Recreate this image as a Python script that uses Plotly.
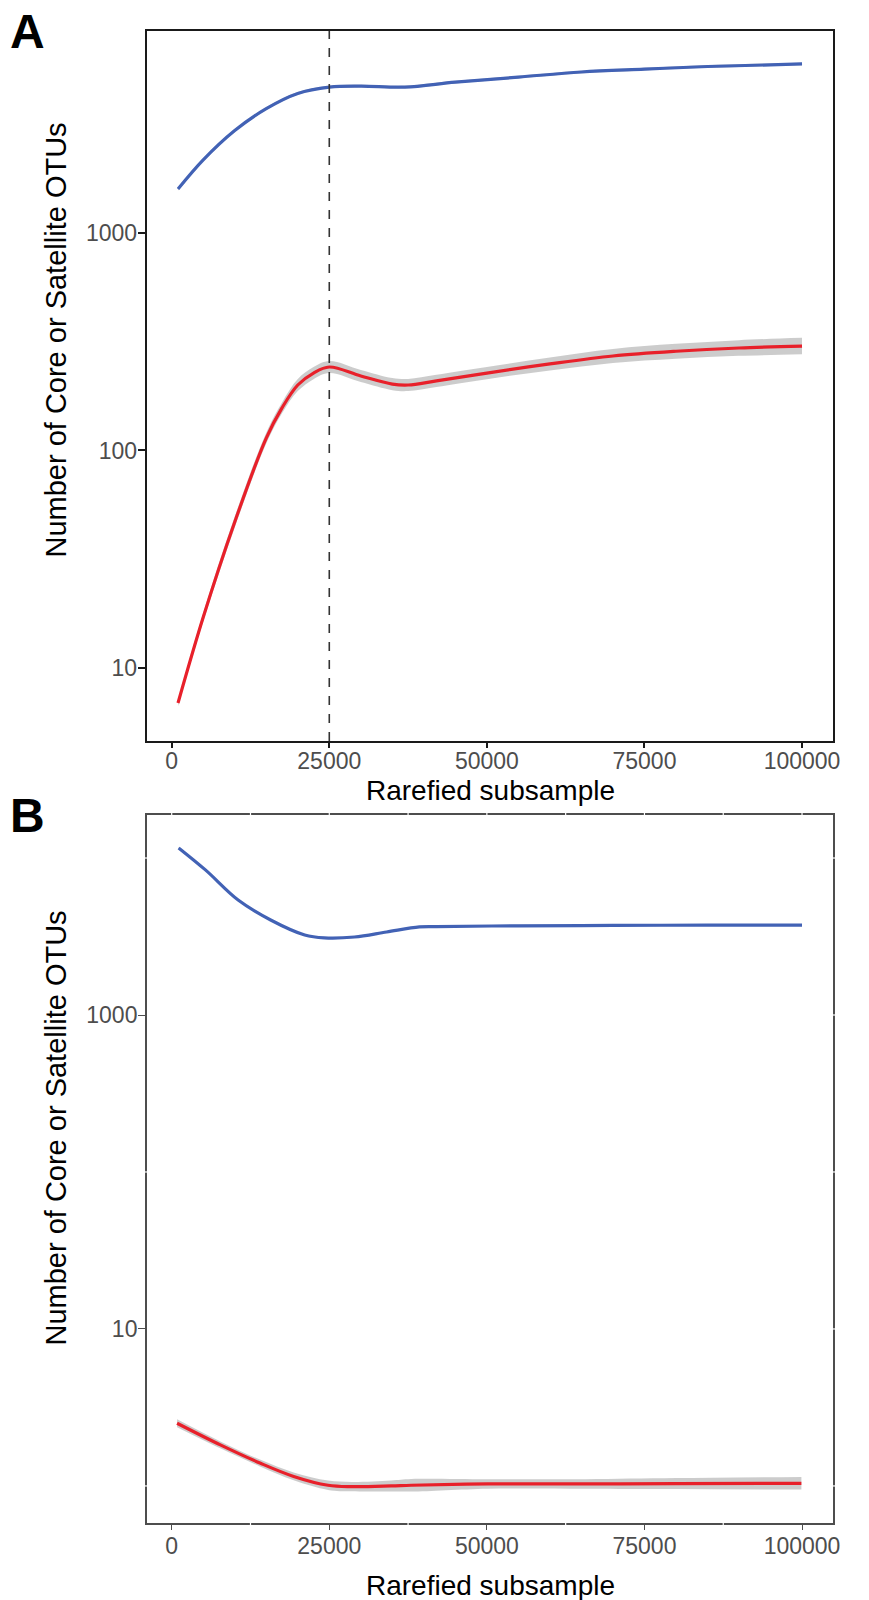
import plotly.graph_objects as go
import numpy as np

# ---------------- data ----------------
# Panel A
a_core_x = [1000, 5000, 10000, 15000, 20000, 25000, 30000, 37000, 45000, 55000, 65000, 75000, 85000, 100000]
a_core_y = [1592, 2168, 2958, 3733, 4385, 4690, 4740, 4690, 4940, 5210, 5500, 5670, 5830, 5990]
a_core_se = [0.006] * len(a_core_x)

a_sat_x = [1000, 5000, 10000, 15000, 17500, 20000, 22500, 25000, 30000, 35000, 37500, 42000, 50000, 60000, 70000, 80000, 90000, 100000]
a_sat_y = [6.9, 17.1, 46.9, 114, 157, 200, 227, 242, 220, 202, 200, 209, 227, 250, 272, 286, 296, 302]
a_sat_se = [0.015, 0.02, 0.025, 0.025, 0.025, 0.028, 0.028, 0.028, 0.028, 0.028, 0.028, 0.028, 0.028, 0.03, 0.032, 0.034, 0.036, 0.038]

a_vline = 25000

# Panel B
b_core_x = [1100, 5350, 10540, 15700, 21100, 24200, 29000, 34100, 39300, 42000, 55000, 70000, 85000, 100000]
b_core_y = [11600, 8400, 5400, 4030, 3235, 3100, 3140, 3380, 3640, 3660, 3700, 3720, 3740, 3740]
b_core_se = [0.006] * len(b_core_x)

b_sat_x = [850, 7800, 14000, 19350, 24800, 28600, 34800, 38000, 50200, 65600, 80000, 99900]
b_sat_y = [2.51, 1.82, 1.40, 1.15, 1.01, 0.99, 1.00, 1.01, 1.03, 1.03, 1.035, 1.04]
b_sat_se = [0.025, 0.022, 0.022, 0.025, 0.03, 0.03, 0.035, 0.04, 0.03, 0.03, 0.035, 0.04]

x_ticks = [0, 25000, 50000, 75000, 100000]
x_ticktext = ["0", "25000", "50000", "75000", "100000"]
x_minor = [12500, 37500, 62500, 87500]
a_yticks = [10, 100, 1000]
b_yticks = [10, 1000]
b_yminor = [1, 100, 10000]

x_title = "Rarefied subsample"
y_title = "Number of Core or Satellite OTUs"

# ---------------- styling ----------------
W, H = 869, 1600
BLUE = "#4262b5"
RED = "#e8202a"
RIB = "rgba(170,170,170,0.6)"
FONT = "Liberation Sans, Arial, Helvetica, sans-serif"
TICKFONT = dict(family=FONT, size=23, color="#4d4d4d")
XTITLEFONT = dict(family=FONT, size=28, color="black")
YTITLEFONT = dict(family=FONT, size=29, color="black")


def px_x(p):
    return p / W


def px_y(p):
    return 1 - p / H


xdom = [px_x(148), px_x(840)]
a_dom = [px_y(741), px_y(31)]
b_dom = [px_y(1523), px_y(815)]

fig = go.Figure()


def add_series(x, y, se, color, xa, ya):
    ly = np.log10(np.array(y, dtype=float))
    s = np.array(se)
    up = 10 ** (ly + s)
    lo = 10 ** (ly - s)
    fig.add_trace(go.Scatter(x=x, y=lo, mode="lines", line=dict(width=0, shape="spline"),
                             hoverinfo="skip", showlegend=False, xaxis=xa, yaxis=ya))
    fig.add_trace(go.Scatter(x=x, y=up, mode="lines", line=dict(width=0, shape="spline"),
                             fill="tonexty", fillcolor=RIB,
                             hoverinfo="skip", showlegend=False, xaxis=xa, yaxis=ya))
    fig.add_trace(go.Scatter(x=x, y=y, mode="lines",
                             line=dict(color=color, width=3.2, shape="spline", smoothing=1.0),
                             showlegend=False, xaxis=xa, yaxis=ya))


add_series(a_core_x, a_core_y, a_core_se, BLUE, "x", "y")
add_series(a_sat_x, a_sat_y, a_sat_se, RED, "x", "y")
add_series(b_core_x, b_core_y, b_core_se, BLUE, "x2", "y2")
add_series(b_sat_x, b_sat_y, b_sat_se, RED, "x2", "y2")

xr = [-3950, 104950]
common_x = dict(range=xr, tickvals=x_ticks, ticktext=x_ticktext, ticks="outside",
                ticklen=5, showgrid=False, zeroline=False, showline=True, mirror=True,
                tickfont=TICKFONT)
common_y = dict(type="log", ticks="outside", ticklen=7, showgrid=False, zeroline=False,
                showline=True, mirror=True, ticklabelstandoff=-4, tickfont=TICKFONT)

fig.update_layout(
    width=W, height=H,
    margin=dict(l=0, r=0, t=0, b=0),
    paper_bgcolor="white", plot_bgcolor="white",
    showlegend=False,
    xaxis=dict(domain=xdom, anchor="y", linecolor="#1a1a1a", linewidth=2.2,
               tickcolor="#1a1a1a", tickwidth=1.5, ticklabelstandoff=-7, **common_x),
    yaxis=dict(domain=a_dom, anchor="x", range=[0.664, 3.929],
               tickvals=a_yticks, ticktext=[str(v) for v in a_yticks],
               tickcolor="#1a1a1a", tickwidth=1.5, linecolor="#1a1a1a", linewidth=2.2, **common_y),
    xaxis2=dict(domain=xdom, anchor="y2", linecolor="#4d4d4d", linewidth=1.5,
                tickcolor="#4d4d4d", tickwidth=1.3, ticklabelstandoff=-3, **common_x),
    yaxis2=dict(domain=b_dom, anchor="x2", range=[-0.236, 4.274],
                tickvals=b_yticks, ticktext=[str(v) for v in b_yticks],
                tickcolor="#4d4d4d", tickwidth=1.3, linecolor="#4d4d4d", linewidth=1.5, **common_y),
)

shapes = []
# dashed vertical line in panel A
shapes.append(dict(type="line", xref="x", yref="y domain", x0=a_vline, x1=a_vline, y0=0, y1=1,
                   line=dict(color="#333333", width=1.6, dash="dash"), layer="above"))
# white grid-line gaps through the panel B border
for v in b_yticks + b_yminor:
    for x0, x1 in [(-0.004, 0.004), (0.996, 1.004)]:
        if v in b_yticks and x0 < 0:
            continue
        shapes.append(dict(type="line", xref="x2 domain", yref="y2", x0=x0, x1=x1, y0=v, y1=v,
                           line=dict(color="white", width=1.2), layer="above"))
for v in x_ticks + x_minor:
    for y0, y1 in [(-0.004, 0.004), (0.996, 1.004)]:
        if v in x_ticks and y0 < 0:
            continue
        shapes.append(dict(type="line", xref="x2", yref="y2 domain", x0=v, x1=v, y0=y0, y1=y1,
                           line=dict(color="white", width=1.2), layer="above"))
fig.update_layout(shapes=shapes)

ann = []
for lab, yc in [("A", 31), ("B", 815)]:
    ann.append(dict(text="<b>" + lab + "</b>", x=px_x(28), y=px_y(yc), xref="paper", yref="paper",
                    xanchor="center", yanchor="middle", showarrow=False,
                    font=dict(family=FONT, size=48, color="black")))
for yc in [790, 1585]:
    ann.append(dict(text=x_title, x=(xdom[0] + xdom[1]) / 2, y=px_y(yc), xref="paper", yref="paper",
                    xanchor="center", yanchor="middle", showarrow=False, font=XTITLEFONT))
for yc in [340, 1128]:
    ann.append(dict(text=y_title, x=px_x(56), y=px_y(yc), xref="paper", yref="paper",
                    xanchor="center", yanchor="middle", textangle=-90, showarrow=False, font=YTITLEFONT))
fig.update_layout(annotations=ann)

fig.write_html("out.html")
